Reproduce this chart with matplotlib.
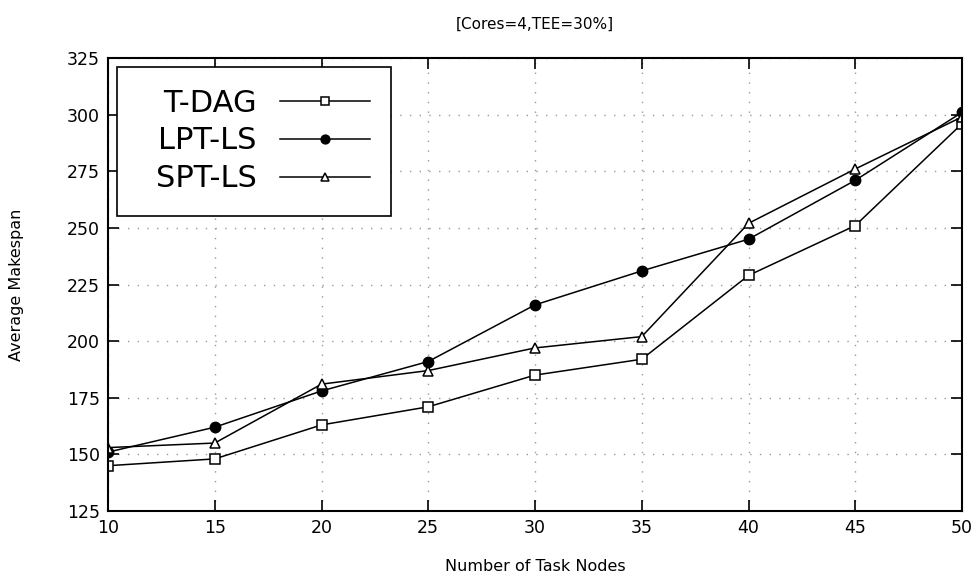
import numpy as np
import matplotlib
matplotlib.use('Agg')
import matplotlib.pyplot as plt
from matplotlib.patches import Rectangle

# data
nodes = [10, 15, 20, 25, 30, 35, 40, 45, 50]
tdag = [145, 148, 163, 171, 185, 192, 229, 251, 296]
lpt_ls = [151, 162, 178, 191, 216, 231, 245, 271, 301]
spt_ls = [153, 155, 181, 187, 197, 202, 252, 276, 299]

fig = plt.figure(figsize=(9.78, 5.81), dpi=100)
ax = fig.add_axes([108 / 978, 1 - 511 / 581, (962 - 108) / 978, (511 - 58) / 581])

ax.plot(nodes, tdag, color='black', lw=1.1, marker='s', ms=7, mfc='white', mec='black', mew=1.1, label='T-DAG')
ax.plot(nodes, lpt_ls, color='black', lw=1.1, marker='o', ms=7.5, mfc='black', mec='black', label='LPT-LS')
ax.plot(nodes, spt_ls, color='black', lw=1.1, marker='^', ms=7, mfc='white', mec='black', mew=1.1, label='SPT-LS')

ax.set_xlim(10, 50)
ax.set_ylim(125, 325)
ax.set_xticks(np.arange(10, 51, 5))
ax.set_yticks(np.arange(125, 326, 25))
ax.tick_params(direction='in', length=8, width=1.2, top=True, right=True, labelsize=12.5, pad=6)
for s in ax.spines.values():
    s.set_linewidth(1.5)
ax.grid(True, color='#999999', ls=(0, (1, 6)), lw=1)

ax.set_xlabel('Number of Task Nodes', fontsize=11.5)
ax.set_ylabel('Average Makespan', fontsize=11.5)
ax.xaxis.set_label_coords(0.5, -0.106)
ax.yaxis.set_label_coords(-0.098, 0.5)
ax.set_title('[Cores=4,TEE=30%]', fontsize=11, pad=21)

# gnuplot-style key: text right-aligned, sample on the right, boxed
leg = ax.legend(loc='center right', bbox_to_anchor=(0.3068, 0.8168), fontsize=22, markerfirst=False,
                frameon=False, handlelength=2.95, labelspacing=0.285, borderpad=0,
                handletextpad=0.75, markerscale=0.85, borderaxespad=0)
for t in leg.get_texts():
    t.set_ha('right')
ax.add_patch(Rectangle((0.0105, 0.651), 0.3209, 0.329, transform=ax.transAxes,
                       fill=True, fc='white', ec='black', lw=1.2, zorder=4))
leg.set_zorder(5)

fig.savefig('out.png', dpi=100)
